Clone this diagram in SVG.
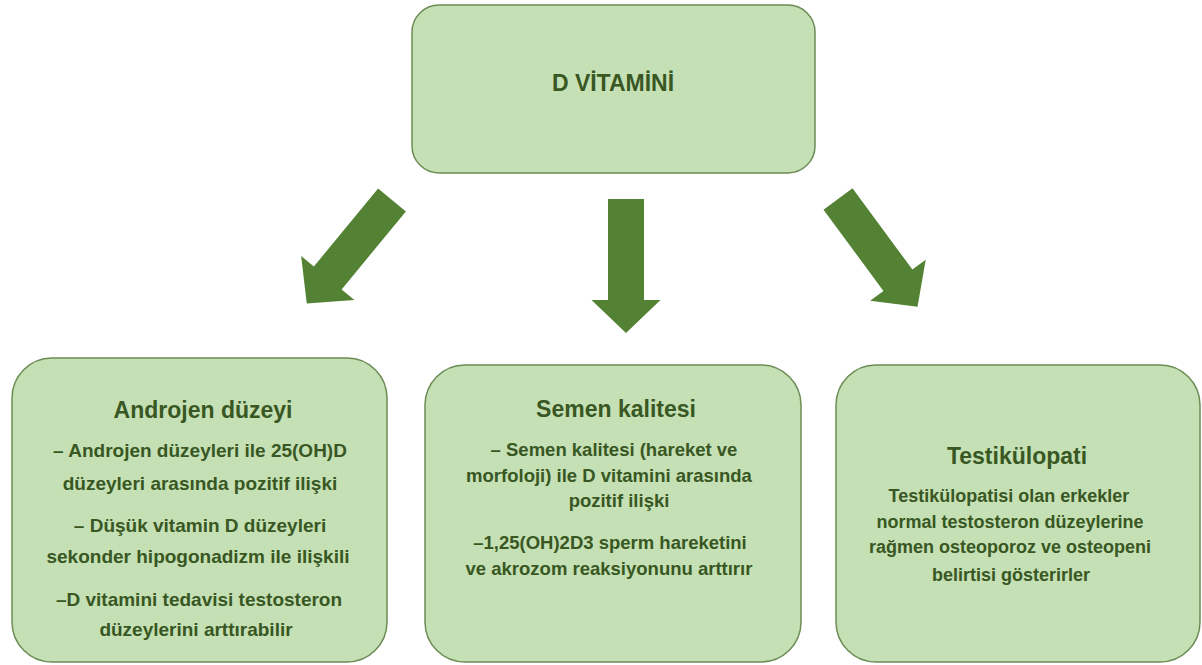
<svg xmlns="http://www.w3.org/2000/svg" width="1202" height="665" viewBox="0 0 1202 665">
  <style>
    .box { fill: #c5e0b4; stroke: #6d8c55; stroke-width: 1.5; }
    .title { font-family: "Liberation Sans", Arial, sans-serif; font-weight: bold; fill: #385723; text-anchor: middle; font-size: 23px; }
    .body { font-family: "Liberation Sans", Arial, sans-serif; font-weight: bold; fill: #385723; text-anchor: middle; }
    .arrow { fill: #548235; }
  </style>
  <defs>
    <!-- block arrow, origin at the middle of the tail, pointing down -->
    <path id="blockArrow" d="M -18,0 L 18,0 L 18,101 L 34.5,101 L 0,134 L -34.5,101 L -18,101 Z"/>
  </defs>

  <rect width="1202" height="665" fill="#ffffff"/>

  <g id="vitamin-d">
    <rect class="box" x="412" y="5" width="403" height="168" rx="27" ry="27"/>
    <text class="title" x="613" y="91" font-size="24">D VİTAMİNİ</text>
  </g>

  <g id="connectors">
    <use href="#blockArrow" class="arrow" transform="translate(392,200) rotate(39.5)"/>
    <use href="#blockArrow" class="arrow" transform="translate(626,199)"/>
    <use href="#blockArrow" class="arrow" transform="translate(838,199) rotate(-36.4)"/>
  </g>

  <g id="androjen">
    <rect class="box" x="12" y="358" width="375" height="304" rx="40" ry="40"/>
    <text class="title" x="203" y="418">Androjen düzeyi</text>
    <g class="body" font-size="19">
      <text x="200" y="457">– Androjen düzeyleri ile 25(OH)D</text>
      <text x="200" y="490">düzeyleri arasında pozitif ilişki</text>
      <text x="200" y="532">– Düşük vitamin D düzeyleri</text>
      <text x="198" y="563">sekonder hipogonadizm ile ilişkili</text>
      <text x="199" y="606">–D vitamini tedavisi testosteron</text>
      <text x="196" y="636">düzeylerini arttırabilir</text>
    </g>
  </g>

  <g id="semen">
    <rect class="box" x="425" y="365" width="376" height="297" rx="40" ry="40"/>
    <text class="title" x="616" y="417">Semen kalitesi</text>
    <g class="body" font-size="18.5">
      <text x="614" y="456">– Semen kalitesi (hareket ve</text>
      <text x="609" y="482">morfoloji) ile D vitamini arasında</text>
      <text x="619" y="507">pozitif ilişki</text>
      <text x="610" y="549">–1,25(OH)2D3 sperm hareketini</text>
      <text x="609" y="575">ve akrozom reaksiyonunu arttırır</text>
    </g>
  </g>

  <g id="testikulopati">
    <rect class="box" x="836" y="365" width="364" height="297" rx="40" ry="40"/>
    <text class="title" x="1017" y="464">Testikülopati</text>
    <g class="body" font-size="18">
      <text x="1009" y="502">Testikülopatisi olan erkekler</text>
      <text x="1010" y="528">normal testosteron düzeylerine</text>
      <text x="1010" y="553">rağmen osteoporoz ve osteopeni</text>
      <text x="1011" y="581">belirtisi gösterirler</text>
    </g>
  </g>
</svg>
